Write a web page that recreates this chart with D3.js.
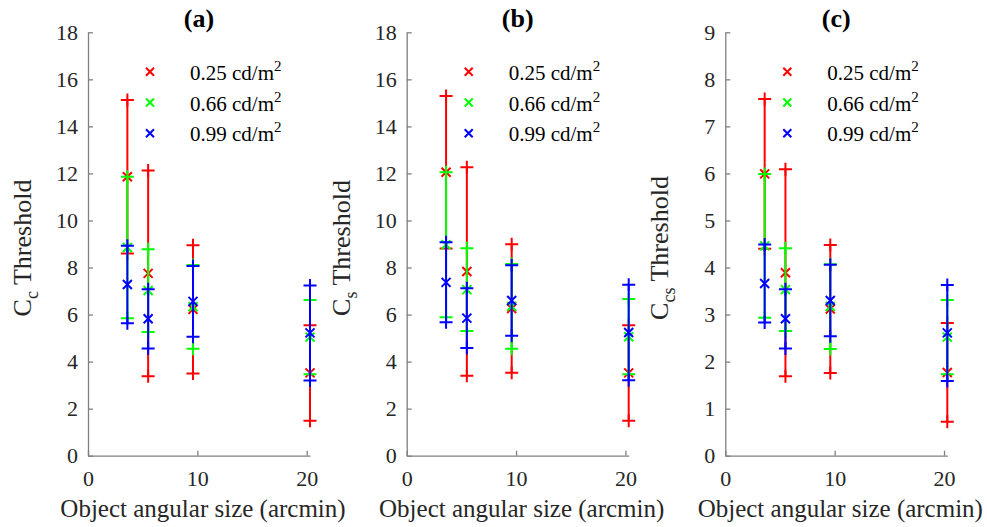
<!DOCTYPE html>
<html lang="en">
<head>
<meta charset="UTF-8">
<title>Contrast thresholds vs object angular size</title>
<script src="https://d3js.org/d3.v7.min.js"></script>
<style>
    body { margin: 0; background: #fff; }
    .axis path, .axis line { stroke: #808080; stroke-width: 1.3; }
    .axis text { fill: #262626; font-size: 22px; }
</style>
</head>
<body>
<svg id="chart" width="987" height="527" viewBox="0 0 987 527"></svg>
<script>
// object angular sizes (arcmin) and luminance levels
const sizes = [3.6, 5.5, 9.6, 20.3];
const luminances = ['0.25', '0.66', '0.99'];
const colors = ['#ff0000', '#00ff00', '#0000ff'];
const xTicks = [0, 10, 20];
const yTicksWide = [0, 2, 4, 6, 8, 10, 12, 14, 16, 18];
const yTicksNarrow = [0, 1, 2, 3, 4, 5, 6, 7, 8, 9];

// (a) C_c threshold, rows = 0.25 / 0.66 / 0.99 cd/m2
const ccMean = [
    [11.86, 7.75, 6.22, 3.52],
    [8.85, 7.02, 6.33, 5.04],
    [7.28, 5.82, 6.56, 5.22]
];
const ccErr = [
    [3.26, 4.37, 2.73, 2.03],
    [3.01, 1.76, 1.78, 1.58],
    [1.65, 1.26, 1.50, 2.02]
];

// (b) C_s threshold
const csMean = [
    [12.05, 7.83, 6.26, 3.52],
    [8.97, 7.06, 6.35, 5.06],
    [7.37, 5.85, 6.60, 5.24]
];
const csErr = [
    [3.24, 4.43, 2.73, 2.03],
    [3.08, 1.76, 1.80, 1.60],
    [1.70, 1.27, 1.50, 2.03]
];

// (c) C_cs threshold
const ccsMean = [
    [5.99, 3.89, 3.12, 1.77],
    [4.46, 3.53, 3.17, 2.52],
    [3.66, 2.91, 3.30, 2.61]
];
const ccsErr = [
    [1.59, 2.20, 1.36, 1.05],
    [1.53, 0.88, 0.90, 0.79],
    [0.83, 0.63, 0.76, 1.02]
];

const panels = [
    { title: '(a)', sub: 'c', mean: ccMean, err: ccErr, yMax: 18, yTicks: yTicksWide, left: 88 },
    { title: '(b)', sub: 's', mean: csMean, err: csErr, yMax: 18, yTicks: yTicksWide, left: 406.7 },
    { title: '(c)', sub: 'cs', mean: ccsMean, err: ccsErr, yMax: 9, yTicks: yTicksNarrow, left: 725.3 }
];

const serif = "'Liberation Serif', 'DejaVu Serif', serif";
const plotTop = 32.3, plotBottom = 455.7, plotW = 222;
const svg = d3.select('#chart').attr('font-family', serif);

// marker paths
const plusPath = (x, y, r) => `M${x - r},${y}H${x + r}M${x},${y - r}V${y + r}`;
const crossPath = (x, y, r) => `M${x - r},${y - r}L${x + r},${y + r}M${x - r},${y + r}L${x + r},${y - r}`;

panels.forEach(p => {
    const x = d3.scaleLinear().domain([0, 20.3]).range([p.left, p.left + plotW]);
    const y = d3.scaleLinear().domain([0, p.yMax]).range([plotBottom, plotTop]);

    svg.append('g')
        .attr('class', 'axis')
        .attr('transform', `translate(${p.left},0)`)
        .call(d3.axisLeft(y).tickValues(p.yTicks).tickSizeInner(-5).tickSizeOuter(0).tickPadding(10))
        .attr('font-family', serif)
        .attr('font-size', 22);

    svg.append('g')
        .attr('class', 'axis')
        .attr('transform', `translate(0,${plotBottom})`)
        .call(d3.axisBottom(x).tickValues(xTicks).tickSizeInner(-5).tickSizeOuter(0).tickPadding(14.5))
        .attr('font-family', serif)
        .attr('font-size', 22);

    // title
    svg.append('text')
        .attr('x', p.left + plotW / 2)
        .attr('y', 27)
        .attr('text-anchor', 'middle')
        .attr('font-family', serif)
        .attr('font-size', '26px')
        .attr('font-weight', 'bold')
        .attr('fill', '#000')
        .text(p.title);

    // x label
    svg.append('text')
        .attr('x', p.left + plotW / 2 + 4)
        .attr('y', 517)
        .attr('text-anchor', 'middle')
        .attr('font-family', serif)
        .attr('font-size', '25px')
        .attr('fill', '#262626')
        .text('Object angular size (arcmin)');

    // y label with subscript
    const yl = svg.append('text')
        .attr('transform', `translate(${p.left - 57},${(plotTop + plotBottom) / 2 + 4}) rotate(-90)`)
        .attr('text-anchor', 'middle')
        .attr('font-family', serif)
        .attr('font-size', '26px')
        .attr('fill', '#262626');
    yl.append('tspan').text('C');
    yl.append('tspan').attr('font-size', '18px').attr('dy', 7).text(p.sub);
    yl.append('tspan').attr('dy', -7).text(' Threshold');

    // error bars, drawn red -> green -> blue
    p.mean.forEach((row, k) => {
        const g = svg.append('g')
            .attr('stroke', colors[k])
            .attr('stroke-width', 2)
            .attr('fill', 'none');
        row.forEach((m, i) => {
            const e = p.err[k][i];
            const cx = x(sizes[i]);
            g.append('line')
                .attr('x1', cx).attr('x2', cx)
                .attr('y1', y(m - e)).attr('y2', y(m + e));
            g.append('path').attr('d', plusPath(cx, y(m - e), 6.5));
            g.append('path').attr('d', plusPath(cx, y(m + e), 6.5));
            g.append('path').attr('d', crossPath(cx, y(m), 4.5));
        });
    });

    // legend
    luminances.forEach((lum, k) => {
        const ly = 71.7 + k * 30.8;
        svg.append('path')
            .attr('d', crossPath(p.left + 62, ly, 4))
            .attr('stroke', colors[k])
            .attr('stroke-width', 2)
            .attr('fill', 'none');
        const t = svg.append('text')
            .attr('x', p.left + 102)
            .attr('y', ly + 8)
            .attr('font-family', serif)
            .attr('font-size', '21px')
            .attr('fill', '#000');
        t.append('tspan').text(`${lum} cd/m`);
        t.append('tspan').attr('font-size', '15px').attr('dy', -9).text('2');
    });
});
</script>
</body>
</html>
